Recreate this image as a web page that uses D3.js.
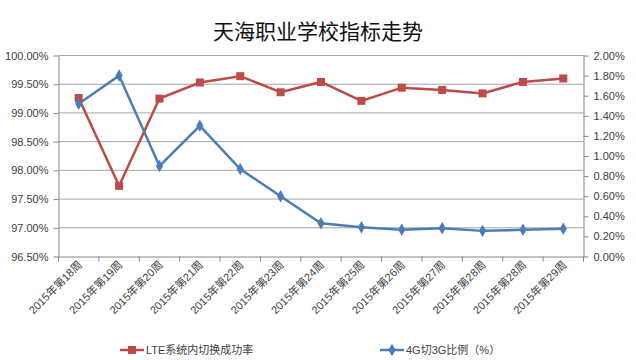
<!DOCTYPE html>
<html><head><meta charset="utf-8">
<script src="https://cdn.jsdelivr.net/npm/d3@7"></script>
<style>body{margin:0;background:#fff}svg{display:block}</style>
</head><body>
<svg id="c" width="636" height="360"></svg>
<script>
const categories = ["2015年第18周","2015年第19周","2015年第20周","2015年第21周","2015年第22周","2015年第23周","2015年第24周","2015年第25周","2015年第26周","2015年第27周","2015年第28周","2015年第28周","2015年第29周"];
const lteSuccess = [99.26, 97.73, 99.25, 99.53, 99.64, 99.36, 99.54, 99.21, 99.44, 99.40, 99.34, 99.54, 99.60];
const ratio4g3g = [1.52, 1.80, 0.90, 1.30, 0.87, 0.60, 0.33, 0.29, 0.265, 0.28, 0.255, 0.265, 0.275];
const leftTicks = [96.5, 97, 97.5, 98, 98.5, 99, 99.5, 100];
const rightTicks = [0, 0.2, 0.4, 0.6, 0.8, 1.0, 1.2, 1.4, 1.6, 1.8, 2.0];
const seriesNames = ["LTE系统内切换成功率", "4G切3G比例（%）"];
const title = "天海职业学校指标走势";

const svg = d3.select("#c");
const L = 58.5, R = 583.5, T = 55.5, B = 256.5;
const font = "'Liberation Sans', Arial, sans-serif";
const cjk = "'Liberation Sans', 'Noto Sans CJK SC', sans-serif";
const red = "#be4b48", blue = "#4a7ebb", txt = "#404040", grid = "#a6a6a6";

const x = d3.scaleBand().domain(d3.range(categories.length)).range([L, R]);
const yL = d3.scaleLinear().domain([96.5, 100]).range([B, T]);
const yR = d3.scaleLinear().domain([0, 2]).range([B, T]);

svg.append("text").attr("x", 318).attr("y", 39).attr("text-anchor", "middle")
  .attr("font-family", "'Noto Sans CJK SC', sans-serif").attr("font-size", 21).attr("fill", "#111")
  .text(title);

// gridlines
svg.append("g").selectAll("line").data(leftTicks.slice(1)).join("line")
  .attr("x1", L).attr("x2", R).attr("y1", d => yL(d)).attr("y2", d => yL(d))
  .attr("stroke", grid).attr("stroke-width", 1);

// left axis
const gl = svg.append("g").attr("transform", `translate(${L},0)`)
  .call(d3.axisLeft(yL).tickValues(leftTicks).tickSize(5).tickSizeOuter(0).tickFormat(d => d.toFixed(2) + "%"));
// right axis
const gr = svg.append("g").attr("transform", `translate(${R},0)`)
  .call(d3.axisRight(yR).tickValues(rightTicks).tickSize(5).tickSizeOuter(0).tickFormat(d => d.toFixed(2) + "%"));
// bottom axis
const gb = svg.append("g").attr("transform", `translate(0,${B})`)
  .call(d3.axisBottom(x).tickSize(0).tickFormat(i => categories[i]));
[gl, gr, gb].forEach(g => {
  g.select(".domain").attr("stroke", "#868686");
  g.selectAll(".tick line").attr("stroke", "#868686");
  g.selectAll("text").attr("fill", txt).attr("font-family", font).attr("font-size", 11);
});
gl.selectAll("text").attr("x", -10);
gr.selectAll("text").attr("x", 10);
// category boundary ticks
svg.append("g").selectAll("line").data(d3.range(categories.length + 1)).join("line")
  .attr("x1", i => L + i * x.step()).attr("x2", i => L + i * x.step())
  .attr("y1", B).attr("y2", B + 5).attr("stroke", "#868686");
gb.selectAll("text")
  .attr("font-family", cjk)
  .attr("text-anchor", "end").attr("dy", 0)
  .attr("transform", "translate(4,9) rotate(-45)")
  .attr("x", 0).attr("y", 0);

// lines
const lineL = d3.line().x((d, i) => x(i) + x.bandwidth() / 2).y(d => yL(d));
const lineR = d3.line().x((d, i) => x(i) + x.bandwidth() / 2).y(d => yR(d));
svg.append("path").datum(lteSuccess).attr("d", lineL).attr("fill", "none").attr("stroke", red).attr("stroke-width", 2.5);
svg.append("path").datum(ratio4g3g).attr("d", lineR).attr("fill", "none").attr("stroke", blue).attr("stroke-width", 2.5);

svg.append("g").selectAll("rect").data(lteSuccess).join("rect")
  .attr("x", (d, i) => x(i) + x.bandwidth() / 2 - 4).attr("y", d => yL(d) - 4)
  .attr("width", 8).attr("height", 8).attr("fill", red);
const diamond = d3.symbol().type(d3.symbolDiamond).size(45);
svg.append("g").selectAll("path").data(ratio4g3g).join("path")
  .attr("d", diamond)
  .attr("transform", (d, i) => `translate(${x(i) + x.bandwidth() / 2},${yR(d)})`)
  .attr("fill", blue);

// legend
const lg = svg.append("g");
const legendY = 350;
[[120, red, "rect", seriesNames[0]], [380, blue, "diamond", seriesNames[1]]].forEach(([lx, col, shape, name]) => {
  lg.append("line").attr("x1", lx).attr("x2", lx + 24).attr("y1", legendY).attr("y2", legendY)
    .attr("stroke", col).attr("stroke-width", 2.5);
  if (shape === "rect") lg.append("rect").attr("x", lx + 8).attr("y", legendY - 4).attr("width", 8).attr("height", 8).attr("fill", col);
  else lg.append("path").attr("d", diamond).attr("transform", `translate(${lx + 12},${legendY})`).attr("fill", col);
  lg.append("text").attr("x", lx + 26).attr("y", legendY + 4).attr("font-family", cjk)
    .attr("font-size", 11).attr("fill", txt).text(name);
});
</script>
</body></html>
